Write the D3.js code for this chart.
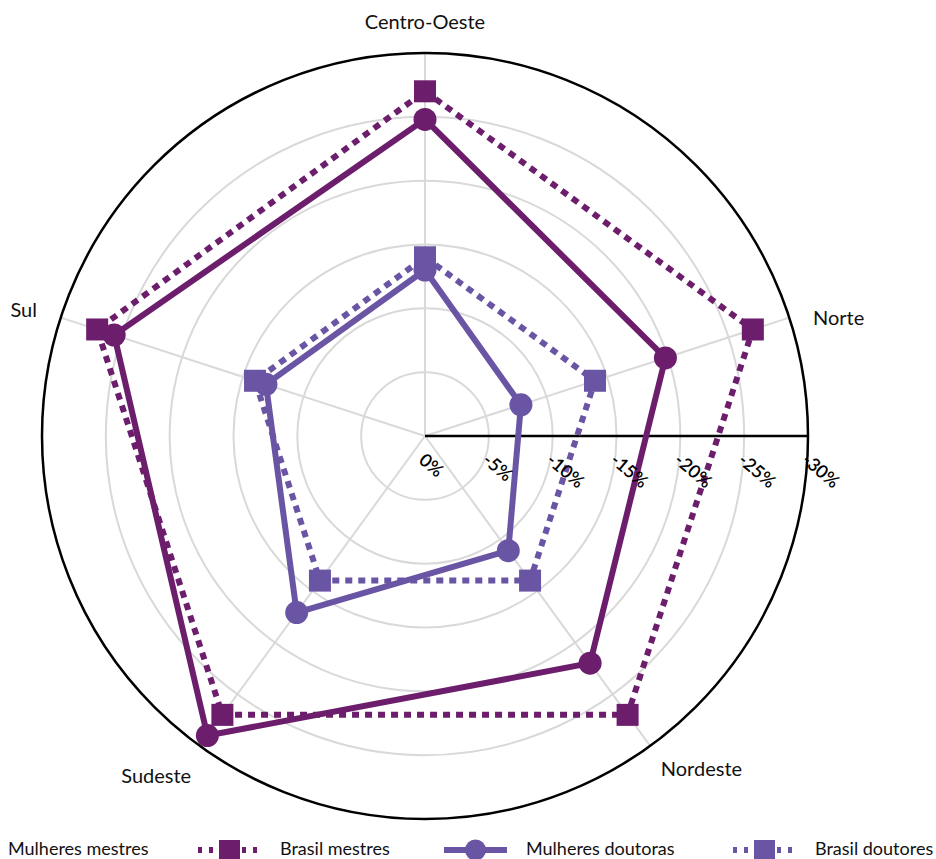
<!DOCTYPE html>
<html>
<head>
<meta charset="utf-8">
<script src="https://cdn.jsdelivr.net/npm/d3@7"></script>
<style>
  html, body { margin: 0; padding: 0; background: #fff; }
  svg { display: block; font-family: Lato, "Open Sans", sans-serif; }
</style>
</head>
<body>
<svg id="chart" width="936" height="859"></svg>
<script>
// ---- data ----
const regions = ["Centro-Oeste", "Norte", "Nordeste", "Sudeste", "Sul"];
const mulheresMestres = [-24.8, -19.8, -22.0, -29.0, -25.6];
const brasilMestres   = [-27.0, -27.0, -27.0, -27.0, -27.0];
const mulheresDoutoras = [-13.0, -7.9, -11.1, -17.1, -13.1];
const brasilDoutores  = [-14.0, -14.0, -14.0, -14.0, -14.0];
const tickValues = [0, -5, -10, -15, -20, -25, -30];
const tickLabels = ["0%", "-5%", "-10%", "-15%", "-20%", "-25%", "-30%"];
const legendLabels = ["Mulheres mestres", "Brasil mestres", "Mulheres doutoras", "Brasil doutores"];

// ---- layout ----
const svg = d3.select("#chart");
const cx = 425, cy = 436, R = 383;
const dark = "#6c1d6b", light = "#6a54a4";

const r = d3.scaleLinear().domain([0, -30]).range([0, R]);
const angle = d3.scalePoint().domain(regions).range([0, 2 * Math.PI * 4 / 5]);
const ang = name => angle(name) - Math.PI / 2;
const pt = (name, v) => [cx + r(v) * Math.cos(ang(name)), cy + r(v) * Math.sin(ang(name))];

const g = svg.append("g");

// grid circles
g.selectAll("circle.grid").data(tickValues.slice(1, -1)).join("circle")
  .attr("cx", cx).attr("cy", cy).attr("r", d => r(d))
  .attr("fill", "none").attr("stroke", "#d9d9d9").attr("stroke-width", 2);

// spokes
g.selectAll("line.spoke").data(regions).join("line")
  .attr("x1", cx).attr("y1", cy)
  .attr("x2", d => pt(d, -30)[0]).attr("y2", d => pt(d, -30)[1])
  .attr("stroke", "#d9d9d9").attr("stroke-width", 2);

// outer circle
g.append("circle").attr("cx", cx).attr("cy", cy).attr("r", r(-30))
  .attr("fill", "none").attr("stroke", "#000").attr("stroke-width", 2.5);

// radial axis line
g.append("line").attr("x1", cx).attr("y1", cy).attr("x2", cx + r(-30)).attr("y2", cy)
  .attr("stroke", "#000").attr("stroke-width", 2.5);

// region labels
const labelR = 408;
const labelDy = { "Centro-Oeste": -4, "Norte": 10, "Nordeste": 5, "Sudeste": 12, "Sul": 2 };
g.selectAll("text.region").data(regions).join("text")
  .attr("x", d => cx + labelR * Math.cos(ang(d)) + (d === "Sudeste" ? 6 : 0) + (d === "Nordeste" ? -4 : 0))
  .attr("y", d => cy + labelR * Math.sin(ang(d)) + labelDy[d])
  .attr("text-anchor", d => {
    const c = Math.cos(ang(d));
    return Math.abs(c) < 0.1 ? "middle" : (c > 0 ? "start" : "end");
  })
  .attr("dominant-baseline", "middle")
  .attr("font-size", 20).attr("fill", "#111")
  .text(d => d);

// series
const series = [
  { name: legendLabels[1], values: brasilMestres, color: dark, dotted: true, marker: "square" },
  { name: legendLabels[0], values: mulheresMestres, color: dark, dotted: false, marker: "circle" },
  { name: legendLabels[3], values: brasilDoutores, color: light, dotted: true, marker: "square" },
  { name: legendLabels[2], values: mulheresDoutoras, color: light, dotted: false, marker: "circle" }
];

const line = d3.line().curve(d3.curveLinearClosed);
const msize = 22;

series.forEach(s => {
  const pts = regions.map((reg, i) => pt(reg, s.values[i]));
  const sg = g.append("g");
  sg.append("path").attr("d", line(pts))
    .attr("fill", "none").attr("stroke", s.color).attr("stroke-width", 6)
    .attr("stroke-dasharray", s.dotted ? "7,6" : null);
  if (s.marker === "square") {
    sg.selectAll("rect").data(pts).join("rect")
      .attr("x", d => d[0] - msize / 2).attr("y", d => d[1] - msize / 2)
      .attr("width", msize).attr("height", msize).attr("fill", s.color);
  } else {
    sg.selectAll("circle").data(pts).join("circle")
      .attr("cx", d => d[0]).attr("cy", d => d[1]).attr("r", 11.5).attr("fill", s.color);
  }
});

// tick labels (on top)
g.selectAll("text.tick").data(tickValues).join("text")
  .attr("transform", d => `translate(${cx + r(d) + 2},${cy + 15}) rotate(40)`)
  .attr("font-size", 18).attr("font-weight", 600).attr("fill", "#000")
  .attr("dominant-baseline", "hanging")
  .text((d, i) => tickLabels[i]);

// legend
const legendItems = [
  { label: legendLabels[0], color: dark, dotted: false, marker: "circle", x: -74 },
  { label: legendLabels[1], color: dark, dotted: true, marker: "square", x: 198 },
  { label: legendLabels[2], color: light, dotted: false, marker: "circle", x: 444 },
  { label: legendLabels[3], color: light, dotted: true, marker: "square", x: 733 }
];
const ly = 850;
const lg = svg.append("g");
legendItems.forEach(it => {
  const ig = lg.append("g").attr("transform", `translate(${it.x},${ly})`);
  ig.append("line").attr("x1", 0).attr("x2", 63).attr("y1", 0).attr("y2", 0)
    .attr("stroke", it.color).attr("stroke-width", 6)
    .attr("stroke-dasharray", it.dotted ? "4,7" : null);
  if (it.marker === "square") {
    ig.append("rect").attr("x", 21).attr("y", -10).attr("width", 21).attr("height", 21).attr("fill", it.color);
  } else {
    ig.append("circle").attr("cx", 31.5).attr("cy", 0).attr("r", 10.5).attr("fill", it.color);
  }
  ig.append("text").attr("x", 82).attr("y", 0).attr("dominant-baseline", "middle")
    .attr("font-size", 18).attr("fill", "#111").text(it.label);
});
</script>
</body>
</html>
